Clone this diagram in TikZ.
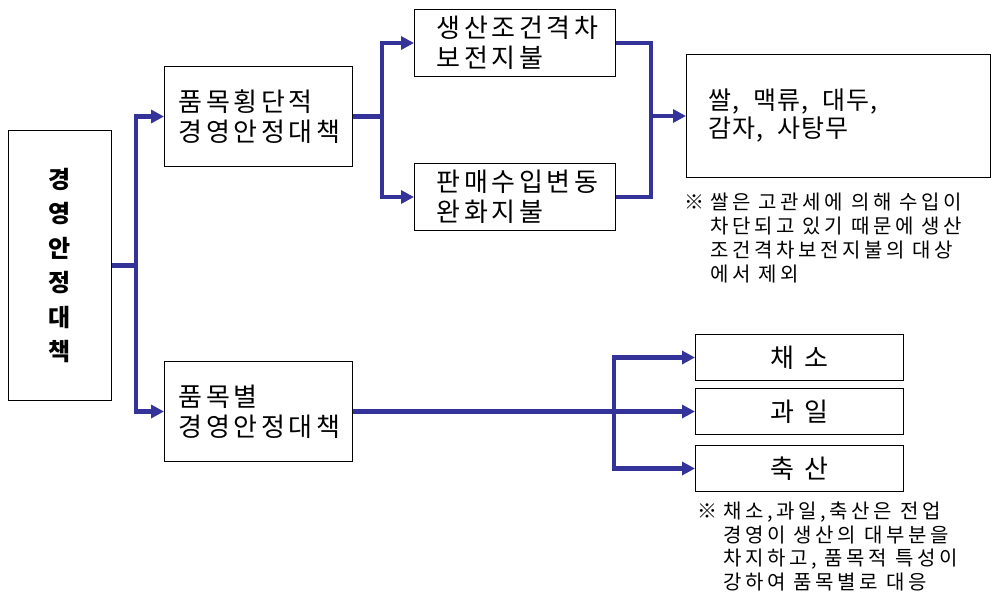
\documentclass[tikz,border=0pt]{standalone}
\usepackage{fontspec}
\setmainfont{Noto Sans CJK KR}
\usetikzlibrary{arrows.meta, positioning}
\definecolor{linkblue}{RGB}{51,51,153}
\newcommand{\boxfont}{\fontsize{26}{30}\selectfont\addfontfeature{LetterSpace=14}}
\newcommand{\listfont}{\fontsize{25}{28}\selectfont\addfontfeature{LetterSpace=4}}
\newcommand{\notefont}{\fontsize{20}{24}\selectfont\addfontfeature{LetterSpace=18}}
\newcommand{\listsep}{,\hspace{14pt}}
\tikzset{
    box/.style={draw, line width=1pt, anchor=north west, align=left, font=\boxfont},
    note/.style={anchor=north west, inner sep=0, font=\notefont},
    link/.style={draw=linkblue, line width=4.5pt},
    arrow/.style={link, -{Triangle[length=13pt, width=13pt]}}
}

\begin{document}
\begin{tikzpicture}[x=1pt, y=-1pt]
    \useasboundingbox (0,0) rectangle (992,598);
    % left column
    \node[box, minimum width=103, minimum height=270, align=center,
          font=\fontsize{24}{34.4}\selectfont\bfseries] (policy) at (8,130)
          {경\\영\\안\\정\\대\\책};
    \node[box, inner xsep=14, text width=160, minimum height=100] (cross) at (164,66)
          {품목횡단적\\경영안정대책};
    \node[box, inner xsep=14, text width=160, minimum height=100] (item) at (164,361)
          {품목별\\경영안정대책};
    % payments
    \node[box, inner xsep=22, text width=157, minimum height=67] (gap) at (414,9)
          {생산조건격차\\보전지불};
    \node[box, inner xsep=22, text width=157, minimum height=67] (income) at (414,163)
          {판매수입변동\\완화지불};
    \node[box, inner xsep=22, text width=260, minimum height=123, font=\listfont] (crops) at (686,54)
          {쌀\listsep 맥류\listsep 대두,\\감자\listsep 사탕무};
    % items
    \node[box, minimum width=208, minimum height=46, align=center] (veg) at (695,334) {채 소};
    \node[box, minimum width=208, minimum height=46, align=center] (fruit) at (695,388) {과 일};
    \node[box, minimum width=208, minimum height=46, align=center] (stock) at (695,445) {축 산};
    % notes
    \node[note] (ricenote) at (684,192)
          {\begin{tabular}{@{}l@{\hspace{6pt}}l@{}}
           ※ & 쌀은 고관세에 의해 수입이\\
             & 차단되고 있기 때문에 생산\\
             & 조건격차보전지불의 대상\\
             & 에서 제외
           \end{tabular}};
    \node[note, font=\notefont\linespread{0.96}\selectfont] (itemnote) at (697,502)
          {\begin{tabular}{@{}l@{\hspace{6pt}}l@{}}
           ※ & 채소,과일,축산은 전업\\
             & 경영이 생산의 대부분을\\
             & 차지하고, 품목적 특성이\\
             & 강하여 품목별로 대응
           \end{tabular}};

    % connectors
    \coordinate[left=35pt of crops.west] (merge);
    \coordinate[left=81pt of fruit.west] (split);
    \draw[arrow] (policy.east) -- ++(24,0) |- (cross.west);
    \draw[arrow] (policy.east) -- ++(24,0) |- (item.west);
    \draw[arrow] (cross.east) -- ++(29,0) |- (gap.west);
    \draw[arrow] (cross.east) -- ++(29,0) |- (income.west);
    \draw[link] (gap.east) -| (merge) |- (income.east);
    \draw[arrow] (merge) -- (crops.west);
    \draw[link] (item.east) -- (split);
    \draw[arrow] (split) |- (veg.west);
    \draw[arrow] (split) -- (fruit.west);
    \draw[arrow] (split) |- (stock.west);
\end{tikzpicture}
\end{document}
